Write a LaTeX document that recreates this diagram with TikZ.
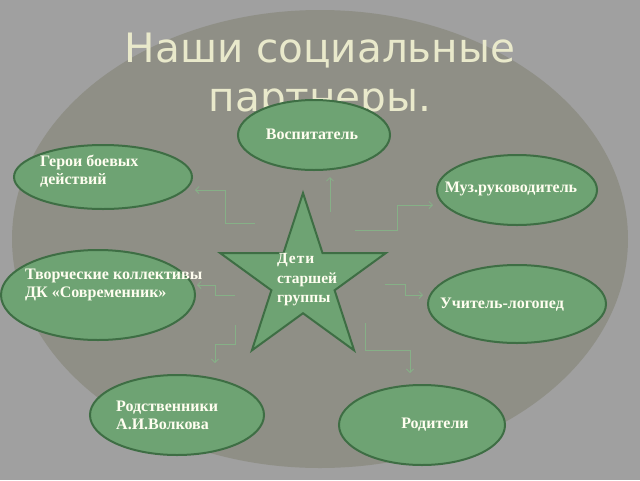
\documentclass[tikz,border=0pt]{standalone}
\usepackage{fontspec}
\setmainfont{Liberation Serif}
\newfontfamily\titrefont{DejaVu Sans}
\usetikzlibrary{shapes.geometric,arrows.meta}

\definecolor{fond}{HTML}{A0A0A0}
\definecolor{ovale}{HTML}{8F8F86}
\definecolor{vert}{HTML}{6EA373}
\definecolor{bord}{HTML}{3E6E44}
\definecolor{lien}{HTML}{86B087}
\definecolor{creme}{HTML}{E9E9CB}

\begin{document}
\begin{tikzpicture}
  [x=1pt, y=-1pt, >={Straight Barb[length=3.5pt,width=7pt]},
  partner/.style={
    draw=bord,
    fill=vert,
    ellipse,
    line width=2pt,
    inner sep=0pt},
  etiquette/.style={
    text=white!94!yellow,
    font=\bfseries\fontsize{16}{18}\selectfont,
    align=left,
    inner sep=0pt},
  fleche/.style={
    draw=lien,
    line width=.8pt,
    ->}]

  % fond et titre
  \useasboundingbox [fill=fond] (0,0) rectangle (640,480);
  \fill [ovale] (320,239) ellipse [x radius=308, y radius=229];

  \node [text=creme, font=\titrefont\fontsize{40.5}{49}\selectfont,
    align=center, inner sep=0pt] at (320,76.5) (titre) {
    Наши социальные\\партнеры.};

  % les partenaires
  \node [partner, minimum width=152, minimum height=70] at (314,135) (educ) {};
  \node [partner, minimum width=178, minimum height=64] at (103,177) (heros) {};
  \node [partner, minimum width=194, minimum height=90] at (98,295) (creatifs) {};
  \node [partner, minimum width=160, minimum height=70] at (517,190) (musique) {};
  \node [partner, minimum width=178, minimum height=78] at (517,304) (logo) {};
  \node [partner, minimum width=174, minimum height=80] at (177,415) (famille) {};
  \node [partner, minimum width=166, minimum height=80] at (422,425) (parents) {};

  \node [partner, star, star points=5, star point ratio=2.618,
    minimum size=174] at (303,280) (enfants) {};

  \node [etiquette] at (312,134) (t-educ) {Воспитатель};
  \node [etiquette, anchor=west] at (40,171) (t-heros) {Герои боевых\\действий};
  \node [etiquette, anchor=west] at (25,285) (t-creatifs) {Творческие коллективы\\ДК «Современник»};
  \node [etiquette] at (511,189) (t-musique) {Муз.руководитель};
  \node [etiquette] at (502,305) (t-logo) {Учитель-логопед};
  \node [etiquette, anchor=west] at (116,415) (t-famille) {Родственники\\А.И.Волкова};
  \node [etiquette] at (435,425) (t-parents) {Родители};
  \node [etiquette, anchor=west, font=\bfseries\fontsize{15.5}{19.5}\selectfont]
    at (277,280) (t-enfants) {\addfontfeature{LetterSpace=6}Дети\\старшей\\группы};

  % les liens
  \coordinate (d-educ) at (330,212);
  \coordinate (a-educ) at (330,177);
  \coordinate (d-heros) at (255,223);
  \coordinate (a-heros) at (195,190);
  \coordinate (d-creatifs) at (235,295);
  \coordinate (a-creatifs) at (197,285);
  \coordinate (d-musique) at (355,230);
  \coordinate (a-musique) at (433,205);
  \coordinate (d-logo) at (385,284);
  \coordinate (a-logo) at (423,295);
  \coordinate (d-famille) at (235,325);
  \coordinate (a-famille) at (215,363);
  \coordinate (d-parents) at (365,323);
  \coordinate (a-parents) at (410,373);

  \draw [fleche] (d-educ) -- (a-educ);
  \draw [fleche] (d-heros) -- ++(-30,0) |- (a-heros);
  \draw [fleche] (d-creatifs) -- ++(-20,0) |- (a-creatifs);
  \draw [fleche] (d-musique) -- ++(42,0) |- (a-musique);
  \draw [fleche] (d-logo) -- ++(20,0) |- (a-logo);
  \draw [fleche] (d-famille) -- ++(0,19) -| (a-famille);
  \draw [fleche] (d-parents) -- ++(0,27) -| (a-parents);
\end{tikzpicture}
\end{document}
